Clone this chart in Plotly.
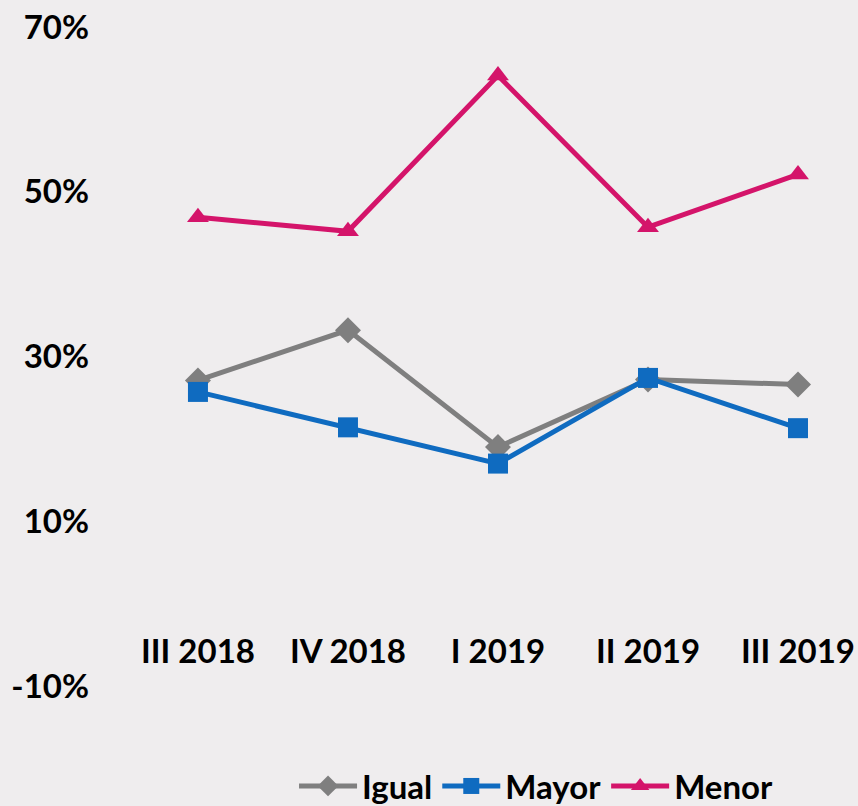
import plotly.graph_objects as go

categories = ["III 2018", "IV 2018", "I 2019", "II 2019", "III 2019"]
igual = [27.1, 33.2, 19.0, 27.2, 26.6]
mayor = [25.7, 21.4, 17.0, 27.4, 21.3]
menor = [46.9, 45.2, 64.1, 45.7, 52.1]
ytick_vals = [-10, 10, 30, 50, 70]
ytick_text = ["-10%", "10%", "30%", "50%", "70%"]

BG = "#efedee"
FONT = dict(family="Lato", size=33, color="#000000", weight="bold")
xs = list(range(len(categories)))

fig = go.Figure()
fig.add_trace(go.Scatter(x=xs, y=igual, name="Igual", mode="lines+markers",
                         line=dict(color="#7f7f7f", width=5),
                         marker=dict(symbol="diamond", size=20, color="#7f7f7f")))
fig.add_trace(go.Scatter(x=xs, y=mayor, name="Mayor", mode="lines+markers",
                         line=dict(color="#0f6bc0", width=5),
                         marker=dict(symbol="square", size=20, color="#0f6bc0")))
fig.add_trace(go.Scatter(x=xs, y=menor, name="Menor", mode="lines+markers",
                         line=dict(color="#d4146a", width=5),
                         marker=dict(symbol="triangle-up", size=19, color="#d4146a")))

fig.update_layout(
    width=858, height=806,
    paper_bgcolor=BG, plot_bgcolor=BG,
    margin=dict(l=100, r=0, t=27, b=120, autoexpand=False),
    font=FONT,
    showlegend=True,
    legend=dict(orientation="h", xref="container", yref="container",
                x=0.3427, xanchor="left", y=0.0248, yanchor="middle",
                font=FONT, bgcolor="rgba(0,0,0,0)", itemwidth=58),
    xaxis=dict(range=[-0.653, 4.4], tickvals=xs, ticktext=categories,
               showgrid=False, zeroline=False, showline=False, ticks="",
               anchor="free", position=0.0866, tickfont=FONT, automargin=False,
               ticklabeloverflow="allow"),
    yaxis=dict(range=[-10, 70], tickvals=ytick_vals, ticktext=ytick_text,
               showgrid=False, zeroline=False, showline=False, ticks="",
               tickfont=FONT, ticklabelstandoff=10, automargin=False,
               ticklabeloverflow="allow"),
)

fig.write_html(
    "out.html",
    config={"displayModeBar": False},
    post_script="document.body.style.margin='0';"
                "document.body.style.overflow='hidden';"
                "document.body.style.background='" + BG + "';",
)
